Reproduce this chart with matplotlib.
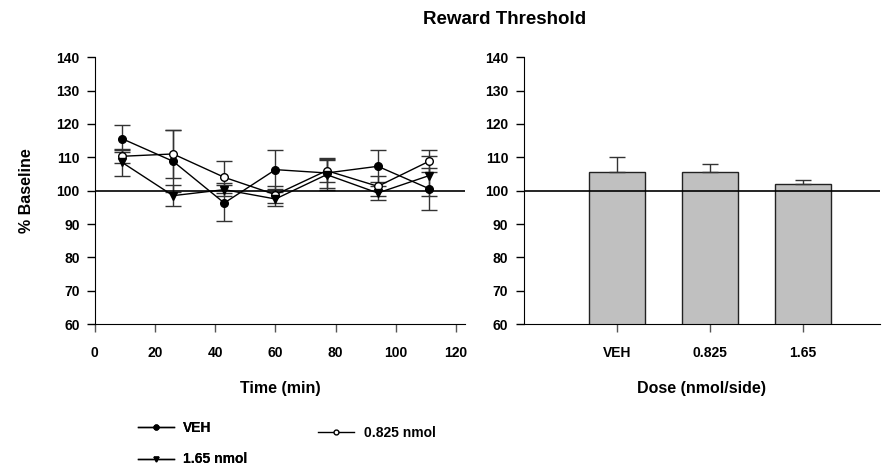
import matplotlib
matplotlib.use("Agg")
import matplotlib.pyplot as plt
from matplotlib.lines import Line2D

plt.rcParams['font.family'] = ['Liberation Sans', 'DejaVu Sans']
plt.rcParams['font.weight'] = 'bold'

# time course (min)
times = [9, 26, 43, 60, 77, 94, 111]

veh_mean = [115.6, 108.8, 96.3, 106.3, 105.3, 107.3, 100.6]
veh_err = [4.0, 9.3, 5.3, 5.8, 4.5, 4.8, 6.3]

mid_mean = [110.3, 111.0, 104.0, 98.8, 106.0, 101.3, 108.8]
mid_err = [2.0, 7.1, 4.8, 2.5, 3.5, 3.0, 3.3]

high_mean = [108.5, 98.5, 100.3, 97.5, 104.8, 99.3, 104.5]
high_err = [4.0, 3.2, 2.0, 2.0, 4.5, 2.2, 6.0]

# dose summary
doses = ['VEH', '0.825', '1.65']
dose_mean = [105.7, 105.7, 102.1]
dose_err = [4.3, 2.3, 1.2]

fig = plt.figure(figsize=(8.86, 4.69), dpi=100)
ax1 = fig.add_axes([0.107, 0.309, 0.418, 0.569])
ax2 = fig.add_axes([0.591, 0.309, 0.402, 0.569])

common = dict(color='black', lw=1, ms=5.5, capsize=6, elinewidth=1, capthick=1, ecolor='#333333')
ax1.errorbar(times, veh_mean, yerr=veh_err, marker='o', mfc='black', **common)
ax1.errorbar(times, mid_mean, yerr=mid_err, marker='o', mfc='white', **common)
ax1.errorbar(times, high_mean, yerr=high_err, marker='v', mfc='black', **common)
ax1.axhline(100, color='black', lw=1.2)

ax1.set_xlim(0, 123)
ax1.set_ylim(60, 140)
ax1.set_xticks(range(0, 121, 20))
ax1.set_yticks(range(60, 141, 10))
ax1.set_xlabel('Time (min)', fontsize=11.5, fontweight='bold', labelpad=15)
ax1.set_ylabel('% Baseline', fontsize=11.5, fontweight='bold', labelpad=16)

bar_x = range(1, len(doses) + 1)
ax2.bar(bar_x, dose_mean, width=0.6, bottom=0, color='#c0c0c0', edgecolor='#222222', lw=1, zorder=2)
ax2.errorbar(bar_x, dose_mean, yerr=[[0] * len(dose_err), dose_err], fmt='none',
             ecolor='#333333', elinewidth=1, capsize=6, capthick=1, zorder=3)
ax2.axhline(100, color='black', lw=1.2, zorder=4)
ax2.set_xlim(0, 3.83)
ax2.set_ylim(60, 140)
ax2.set_xticks(list(bar_x))
ax2.set_xticklabels(doses)
ax2.set_yticks(range(60, 141, 10))
ax2.set_xlabel('Dose (nmol/side)', fontsize=11.5, fontweight='bold', labelpad=15)

for ax in (ax1, ax2):
    ax.spines['top'].set_visible(False)
    ax.spines['right'].set_visible(False)
    ax.tick_params(axis='y', direction='out', length=6, width=1, labelsize=10, pad=5)
    ax.tick_params(axis='x', direction='out', length=6, width=1, labelsize=10, pad=10, color='#555555')
    for lab in ax.get_xticklabels() + ax.get_yticklabels():
        lab.set_fontweight('bold')

fig.text(0.569, 0.958, 'Reward Threshold', ha='center', va='center', fontsize=13.5, fontweight='bold')

# legend handles
h_veh = Line2D([], [], color='black', lw=1, marker='o', ms=3.5, mfc='black')
h_mid = Line2D([], [], color='black', lw=1, marker='o', ms=3.5, mfc='white')
h_high = Line2D([], [], color='black', lw=1, marker='v', ms=3.5, mfc='black')

leg_kw = dict(loc='upper left', frameon=False, handlelength=2.6, fontsize=10,
              borderaxespad=0, handletextpad=0.7)
leg1 = fig.legend([h_veh, h_high], ['VEH', '1.65 nmol'], bbox_to_anchor=(0.149, 0.114),
                  labelspacing=1.25, **leg_kw)
fig.add_artist(leg1)
leg2 = fig.legend([h_mid], ['0.825 nmol'], bbox_to_anchor=(0.353, 0.104), **leg_kw)
for leg in (leg1, leg2):
    for t in leg.get_texts():
        t.set_fontweight('bold')

fig.savefig('out.png', dpi=100)
